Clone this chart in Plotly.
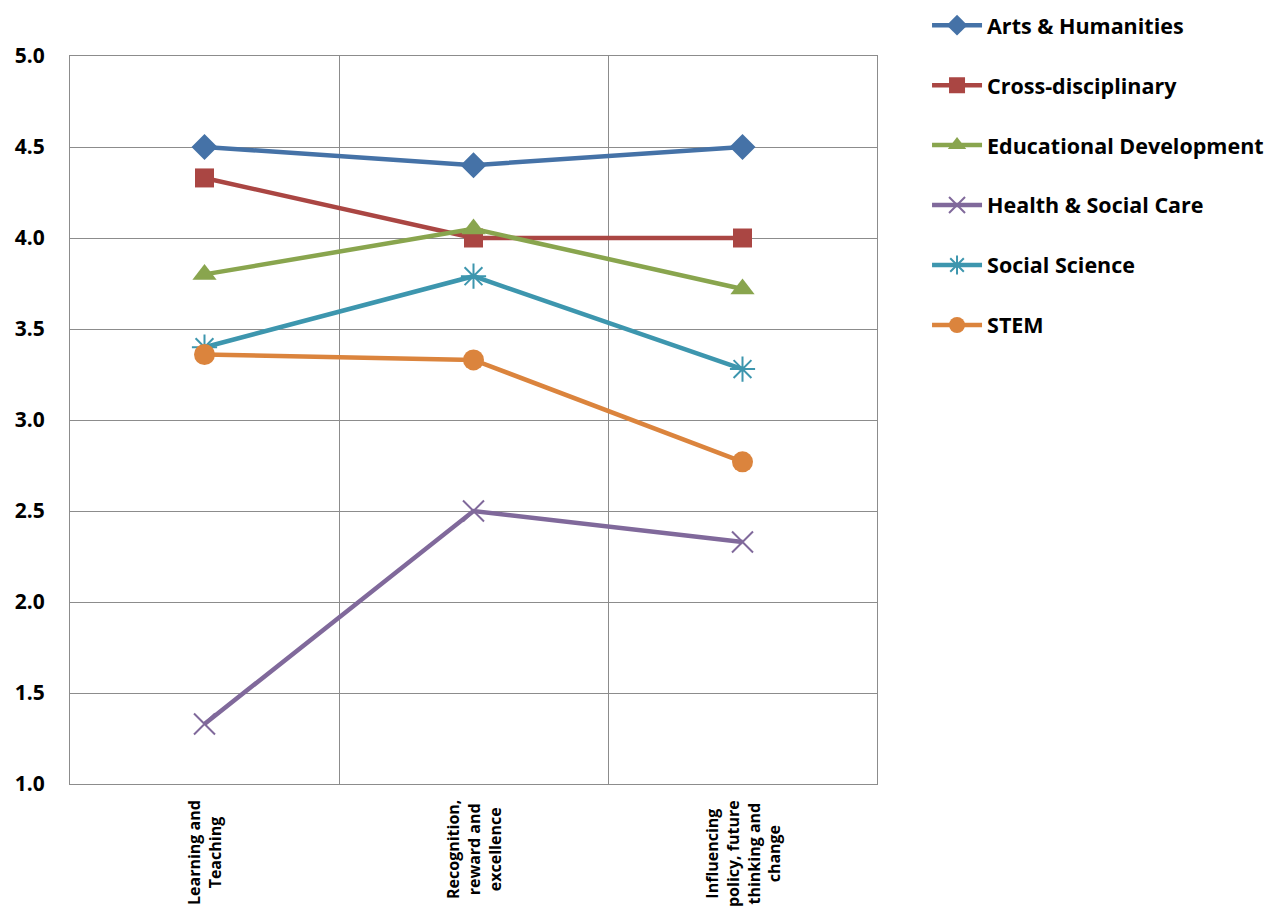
import plotly.graph_objects as go

# Ratings by discipline across three themes
categories = [
    "Learning and Teaching",
    "Recognition, reward and excellence",
    "Influencing policy, future thinking and change",
]
category_labels = [
    "Learning and<br>Teaching",
    "Recognition,<br>reward and<br>excellence",
    "Influencing<br>policy, future<br>thinking and<br>change",
]
series_names = [
    "Arts & Humanities",
    "Cross-disciplinary",
    "Educational Development",
    "Health & Social Care",
    "Social Science",
    "STEM",
]
arts_humanities = [4.5, 4.4, 4.5]
cross_disciplinary = [4.33, 4.0, 4.0]
educational_development = [3.8, 4.05, 3.72]
health_social_care = [1.33, 2.5, 2.33]
social_science = [3.4, 3.79, 3.28]
stem = [3.36, 3.33, 2.77]
y_ticks = [1.0, 1.5, 2.0, 2.5, 3.0, 3.5, 4.0, 4.5, 5.0]

values = [arts_humanities, cross_disciplinary, educational_development,
          health_social_care, social_science, stem]
colors = ["#4572A7", "#AA4643", "#89A54E", "#80699B", "#3D96AE", "#DB843D"]
symbols = ["diamond", "square", "triangle-up", "x-thin-open", "asterisk-open", "circle"]
sizes = [20, 19, 21, 21, 21, 21]

FONT = "Open Sans"
GRID = "#8c8c8c"

fig = go.Figure()
for i, (name, vals) in enumerate(zip(series_names, values)):
    thin = symbols[i].endswith("-open")
    fig.add_trace(go.Scatter(
        x=categories, y=vals, name=name, mode="lines+markers",
        legendgroup=name,
        line=dict(color=colors[i], width=4.5),
        marker=dict(symbol=symbols[i], size=sizes[i], color=colors[i],
                    line=dict(color=colors[i], width=2 if thin else 0)),
    ))

# Rotated category labels, lines centred under each category
for cat, label in zip(categories, category_labels):
    fig.add_annotation(
        x=cat, xref="x", y=0, yref="paper", yanchor="top", yshift=-14,
        text=label, textangle=-90, align="center", showarrow=False,
        font=dict(family=FONT, size=16, color="black", weight="bold"),
    )

fig.update_layout(
    width=1276, height=913,
    margin=dict(l=70, r=399, t=56, b=129, autoexpand=False),
    plot_bgcolor="white", paper_bgcolor="white",
    font=dict(family=FONT, color="black"),
    showlegend=True,
    legend=dict(
        x=1.062, y=1.0704, xanchor="left", yanchor="top",
        font=dict(family=FONT, size=21.5, color="black", weight="bold"),
        tracegroupgap=29.0, itemwidth=50, bgcolor="rgba(0,0,0,0)",
    ),
    xaxis=dict(
        type="category", range=[-0.5, 2.5], tickson="boundaries",
        showgrid=True, gridcolor=GRID, gridwidth=1,
        showline=True, linecolor=GRID, mirror=True, ticks="",
        showticklabels=False,
    ),
    yaxis=dict(
        range=[1.0, 5.0], tickvals=y_ticks, tickformat=".1f",
        showgrid=True, gridcolor=GRID, gridwidth=1,
        showline=True, linecolor=GRID, mirror=True, ticks="",
        zeroline=False, ticklabelstandoff=20,
        tickfont=dict(family=FONT, size=21, color="black", weight="bold"),
    ),
)

fig.write_html("out.html")
